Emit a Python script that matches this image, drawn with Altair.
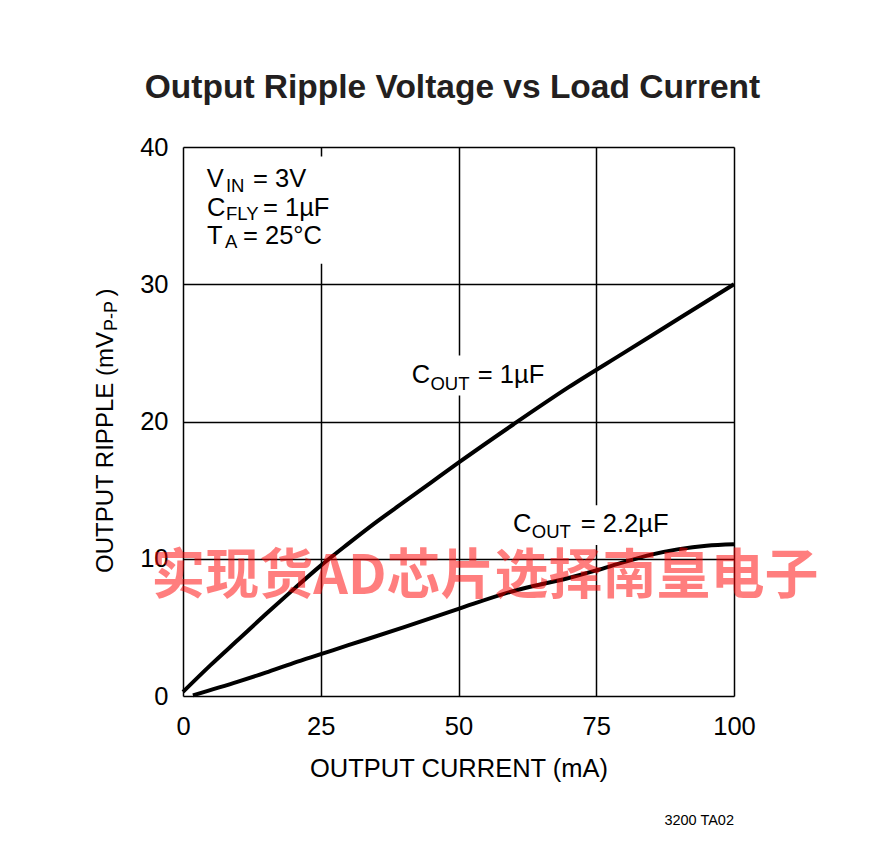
import altair as alt
import pandas as pd

# ---- data ----
cur_1uF = [0, 5, 10, 15, 20, 25, 30, 35, 40, 45, 50, 60, 70, 80, 90, 100]
rip_1uF = [0.3, 2.25, 4.1, 5.95, 7.75, 9.5, 11.1, 12.65, 14.1, 15.55, 17.0, 19.8, 22.5, 25.0, 27.5, 30.0]

cur_22uF = [1.8, 10, 15, 20, 25, 30, 40, 50, 60, 70, 75, 80, 85, 90, 95, 100]
rip_22uF = [0.05, 1.05, 1.7, 2.4, 3.05, 3.7, 5.0, 6.35, 7.65, 8.6, 9.15, 9.75, 10.3, 10.7, 10.95, 11.05]

x_ticks = [0, 25, 50, 75, 100]
y_ticks = [0, 10, 20, 30, 40]

FONT = "Liberation Sans, Arial, sans-serif"
BIG = 25.5
SUB = 18.5

lines_df = pd.DataFrame(
    {"current": cur_1uF + cur_22uF,
     "ripple": rip_1uF + rip_22uF,
     "series": ["1uF"] * len(cur_1uF) + ["2.2uF"] * len(cur_22uF)}
)

# text pieces: (x mA, y mV, text, size)
ann_text = ["V", "IN", "= 3V", "C", "FLY", "= 1µF", "T", "A", "= 25°C",
            "C", "OUT", "= 1µF", "C", "OUT", "= 2.2µF"]
ann_x = [4.30, 7.80, 12.70, 4.36, 7.80, 14.52, 4.36, 7.62, 10.89,
         41.51, 44.90, 53.50, 59.89, 63.30, 72.2]
ann_y = [37.11, 36.74, 37.11, 34.97, 34.68, 34.97, 32.93, 32.64, 32.93,
         22.78, 22.30, 22.78, 11.95, 11.50, 11.95]
ann_size = [BIG, SUB, BIG, BIG, SUB, BIG, BIG, SUB, BIG,
            BIG, SUB, BIG, BIG, SUB, BIG]
ann_df = pd.DataFrame({"x": ann_x, "y": ann_y, "text": ann_text, "size": ann_size})

ytitle_text = ["OUTPUT RIPPLE (mV", "P-P", ")"]
ytitle_x = [-12.7, -11.9, -12.7]
ytitle_y = [8.96, 26.6, 29.1]
ytitle_size = [24, 18, 24]
ytitle_df = pd.DataFrame({"x": ytitle_x, "y": ytitle_y, "text": ytitle_text, "size": ytitle_size})

# white backgrounds behind labels (grid gaps)
bg_x = [3.0, 41.0, 59.0]
bg_x2 = [26.0, 66.0, 89.0]
bg_y = [31.5, 21.9, 11.0]
bg_y2 = [39.3, 24.8, 13.9]
bg_df = pd.DataFrame({"x": bg_x, "x2": bg_x2, "y": bg_y, "y2": bg_y2})

foot_df = pd.DataFrame({"x": [100], "y": [-9.4], "text": ["3200 TA02"]})
wm_df = pd.DataFrame({"x": [54.8], "y": [8.6], "text": ["实现货AD芯片选择南皇电子"]})

xs = alt.Scale(domain=[0, 100], nice=False, zero=False)
ys = alt.Scale(domain=[0, 40], nice=False, zero=False)

x_axis = alt.Axis(values=x_ticks, title="OUTPUT CURRENT (mA)", grid=True, gridColor="black",
                  gridWidth=1.5, gridOpacity=1, ticks=False, domain=False, labelFont=FONT,
                  labelFontSize=BIG, labelColor="black", labelPadding=18, labelFlush=False,
                  titleFont=FONT, titleFontSize=BIG, titleFontWeight="normal", titleColor="black",
                  titlePadding=17)
y_axis = alt.Axis(values=y_ticks, title=None, grid=True, gridColor="black", gridWidth=1.5,
                  gridOpacity=1, ticks=False, domain=False, labelFont=FONT, labelFontSize=BIG,
                  labelColor="black", labelPadding=15, labelBaseline="middle", labelFlush=False)

bg = alt.Chart(bg_df).mark_rect(color="white").encode(
    x=alt.X("x:Q", scale=xs, axis=x_axis), x2="x2", y=alt.Y("y:Q", scale=ys, axis=y_axis), y2="y2"
)

lines = alt.Chart(lines_df).mark_line(color="black", strokeWidth=4, interpolate="monotone").encode(
    x=alt.X("current:Q", scale=xs), y=alt.Y("ripple:Q", scale=ys), detail="series:N"
)

ann = alt.Chart(ann_df).mark_text(font=FONT, align="left", baseline="alphabetic", color="black").encode(
    x=alt.X("x:Q", scale=xs), y=alt.Y("y:Q", scale=ys), text="text:N", size=alt.Size("size:Q", scale=None)
)

ytitle = alt.Chart(ytitle_df).mark_text(font=FONT, align="left", baseline="alphabetic", angle=270,
                                        color="black").encode(
    x=alt.X("x:Q", scale=xs), y=alt.Y("y:Q", scale=ys), text="text:N", size=alt.Size("size:Q", scale=None)
)

foot = alt.Chart(foot_df).mark_text(font=FONT, align="right", baseline="alphabetic", fontSize=14.5,
                                    color="black").encode(
    x=alt.X("x:Q", scale=xs), y=alt.Y("y:Q", scale=ys), text="text:N"
)

wm = alt.Chart(wm_df).mark_text(font="Noto Sans CJK SC", fontWeight="bold", fontSize=54, color="red",
                                opacity=0.5, align="center", baseline="middle").encode(
    x=alt.X("x:Q", scale=xs), y=alt.Y("y:Q", scale=ys), text="text:N"
)

chart = alt.layer(bg, lines, ann, ytitle, foot, wm).properties(
    width=551, height=549,
    title=alt.Title("Output Ripple Voltage vs Load Current", font=FONT, fontSize=33.5,
                    fontWeight="bold", color="#231f20", anchor="middle", baseline="alphabetic",
                    offset=4, dx=-6),
    autosize=alt.AutoSizeParams(type="none"),
    padding={"left": 175, "top": 139, "right": 128, "bottom": 156},
).configure_view(stroke="black", strokeWidth=2).configure(background="white")

chart.save("out.html", embed_options={"renderer": "svg", "actions": False})
